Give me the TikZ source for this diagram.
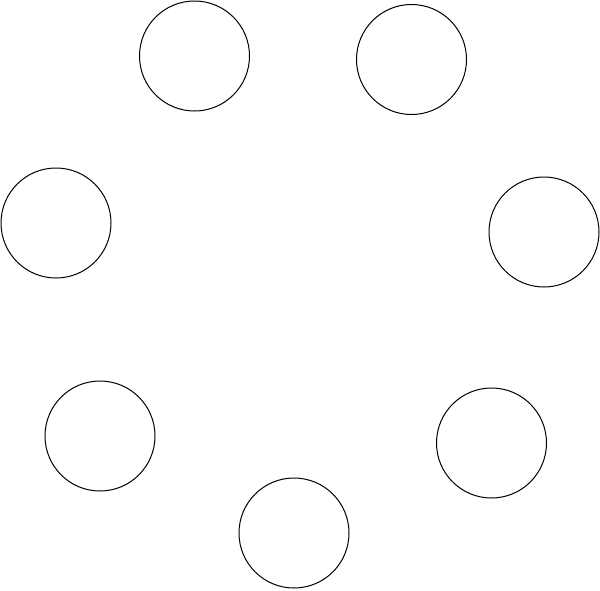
\documentclass[tikz,border=0pt]{standalone}
\usepackage{tikz}

\begin{document}
\begin{tikzpicture}[x=1pt,y=-1pt,join=round,
        ring/.style={circle,draw=black,line width=1pt,minimum size=110pt,inner sep=0pt}]
        \useasboundingbox (0,0) rectangle (600,590);
        % seven rings round an empty middle
        \node[ring] (topleft) at (194.5,56) {};
        \node[ring] (topright) at (411.5,59.5) {};
        \node[ring] (midleft) at (56,223) {};
        \node[ring] (midright) at (544,232) {};
        \node[ring] (lowleft) at (100,436) {};
        \node[ring] (lowright) at (491.5,443) {};
        \node[ring] (bottom) at (294,533) {};
\end{tikzpicture}
\end{document}
